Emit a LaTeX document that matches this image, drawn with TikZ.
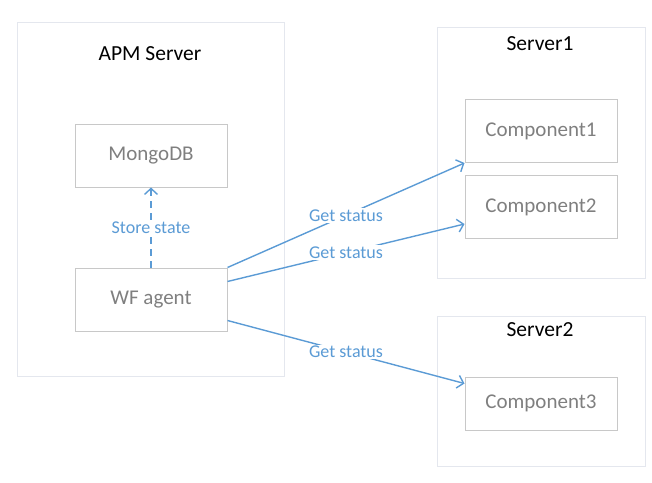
\documentclass[tikz,border=0pt]{standalone}
\usepackage{fontspec}
\setmainfont{Carlito}
\usetikzlibrary{arrows.meta}
\definecolor{frameline}{HTML}{E4E7EE}
\definecolor{boxline}{HTML}{C8C8C8}
\definecolor{boxtext}{HTML}{7F7F7F}
\definecolor{linkblue}{HTML}{5B9BD5}

\begin{document}
\begin{tikzpicture}[x=1pt,y=-1pt,
        server/.style={draw=frameline, line width=1pt},
        comp/.style={draw=boxline, line width=1pt, minimum width=152pt, minimum height=63pt,
                font=\fontsize{21}{24}\selectfont, text=boxtext},
        title/.style={font=\fontsize{21.5}{24}\selectfont, text=black},
        link/.style={draw=linkblue, line width=1.4pt, -{Straight Barb[length=6pt,width=13pt]}},
        tag/.style={font=\fontsize{18}{20}\selectfont, text=linkblue, fill=white, inner sep=1.5pt}]

        \useasboundingbox (0,0) rectangle (652,482);

        % APM server
        \draw[server] (17,22) rectangle (284,376);
        \node[title] (apm) at (150,54) {APM Server};
        \node[comp] (mongo) at (151,155.5) {MongoDB};
        \node[comp] (agent) at (151,299.5) {WF agent};

        % Server1
        \draw[server] (437,27) rectangle (645,278);
        \node[title] (s1) at (540,44) {Server1};
        \node[comp] (c1) at (541,131) {Component1};
        \node[comp] (c2) at (541,207) {Component2};

        % Server2
        \draw[server] (437,316) rectangle (645,466);
        \node[title] (s2) at (540,330) {Server2};
        \node[comp, minimum height=53pt] (c3) at (541,403.5) {Component3};

        % links
        \draw[link, dashed, dash pattern=on 7pt off 5pt] (agent.north) -- (mongo.south)
                node[tag, midway] {Store state};
        \draw[link] (agent.north east) -- (c1.south west) node[tag, midway] {Get status};
        \draw[link] ([yshift=-14pt]agent.north east) -- ([yshift=15pt]c2.south west)
                node[tag, midway] {Get status};
        \draw[link] ([yshift=11pt]agent.south east) -- ([yshift=-7pt]c3.north west)
                node[tag, midway] {Get status};
\end{tikzpicture}
\end{document}
